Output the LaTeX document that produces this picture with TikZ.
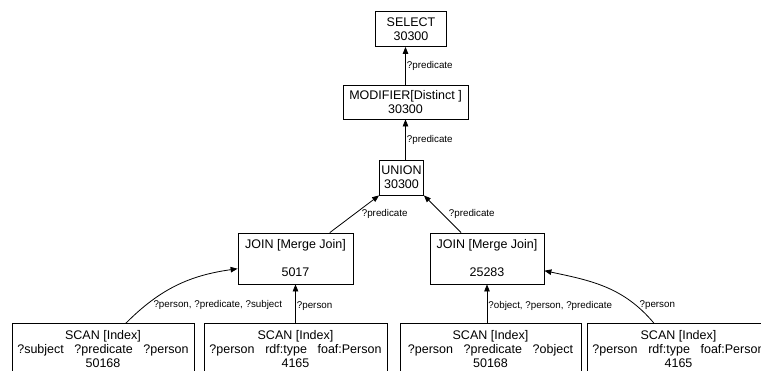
\documentclass[tikz,border=0pt]{standalone}
\usepackage{fontspec}
\setmainfont{Liberation Sans}
\usetikzlibrary{arrows.meta}
\newcommand{\gap}{\hspace{0.85em}}
\tikzset{
  operator/.style={
    % The shape:
    rectangle,
    % The size:
    inner sep=0pt,
    minimum height=35pt,
    % The border:
    line width=0.8pt,
    draw=black,
    % The text:
    align=center,
    font=\fontsize{12.5}{14}\selectfont},
  scan/.style={
    operator,
    minimum width=183pt,
    minimum height=52pt},
  edge label/.style={
    inner sep=1pt,
    font=\fontsize{9.8}{12}\selectfont}
}

\begin{document}
\begin{tikzpicture}[x=1pt,y=1pt,>={Triangle[length=7pt,width=5.5pt]},
                    line width=0.8pt]
  \useasboundingbox (0,0) rectangle (761,-370);
  \clip (0,0) rectangle (761,-370);

  \node (select)   [operator, minimum width=71pt]  at (411,-29)   {SELECT\\30300};
  \node (modifier) [operator, minimum width=125pt, minimum height=34pt] at (405.5,-102) {MODIFIER[Distinct ]\\30300};
  \node (union)    [operator, minimum width=44pt]  at (401.5,-177.5) {UNION\\30300};
  \node (joinL)    [operator, minimum width=115pt, minimum height=51pt] at (295.5,-258.5) {JOIN [Merge Join]\\[14pt]5017};
  \node (joinR)    [operator, minimum width=114pt, minimum height=51pt] at (487,-258.5) {JOIN [Merge Join]\\[14pt]25283};
  \node (scan1) [scan, minimum width=182pt] at (103,-349.5)   {SCAN [Index]\\?subject\gap ?predicate\gap ?person\\50168};
  \node (scan2) [scan]                      at (295.5,-349.5) {SCAN [Index]\\?person\gap rdf:type\gap foaf:Person\\4165};
  \node (scan3) [scan, minimum width=181pt] at (490.5,-349.5) {SCAN [Index]\\?person\gap ?predicate\gap ?object\\50168};
  \node (scan4) [scan]                      at (678.5,-349.5) {SCAN [Index]\\?person\gap rdf:type\gap foaf:Person\\4165};

  % upper part
  \draw[->] (modifier) -- (modifier |- select.south)
    node[edge label, midway, right] {?predicate};
  \draw[->] (union.north -| modifier) -- (modifier.south)
    node[edge label, midway, right] {?predicate};
  \draw[->] (joinL) -- (union.south west)
    node[edge label, midway, right=6pt] {?predicate};
  \draw[->] (joinR) -- (union.south east)
    node[edge label, midway, right=5pt] {?predicate};

  % scans
  \draw[->] (scan1.49) to[out=45,in=188]
    node[edge label, pos=0.2, right=6pt] {?person, ?predicate, ?subject} (joinL.190);
  \draw[->] (scan2.north -| joinL) -- (joinL.south)
    node[edge label, pos=0.45, right] {?person};
  \draw[->] (scan3.north -| joinR) -- (joinR.south)
    node[edge label, pos=0.45, right] {?object, ?person, ?predicate};
  \draw[->] (scan4.133) to[out=130,in=-12]
    node[edge label, pos=0.2, right=3pt] {?person} (joinR.348);
\end{tikzpicture}
\end{document}
